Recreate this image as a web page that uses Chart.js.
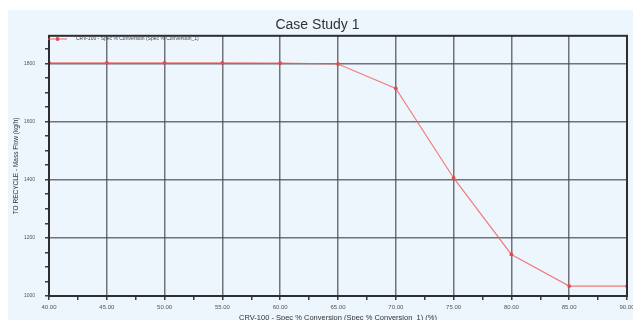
<!DOCTYPE html>
<html>
<head>
<meta charset="utf-8">
<script src="https://cdn.jsdelivr.net/npm/chart.js@4.4.1/dist/chart.umd.min.js"></script>
<style>
  html, body { margin: 0; padding: 0; background: #ffffff; }
  #panel { position: absolute; left: 8px; top: 10px; width: 625px; height: 310px; background: #edf5fd; }
  #panel canvas { display: block; }
</style>
</head>
<body>
<div id="panel"><canvas id="c" width="625" height="310"></canvas></div>
<script>
// Spec % conversion of CRV-100 (x) against recycle mass flow (y)
const conversion = [40, 45, 50, 55, 60, 65, 70, 75, 80, 85, 90];
const recycleFlow = [1802, 1802, 1802, 1802, 1801, 1798, 1714, 1406, 1143, 1034, 1034];

const seriesLabel = 'CRV-100 - Spec % Conversion (Spec % Conversion_1)';
const chartTitle = 'Case Study 1';
const xTitle = 'CRV-100 - Spec % Conversion (Spec % Conversion_1) (%)';
const yTitle = 'TO RECYCLE - Mass Flow (kg/h)';

const X_MIN = 40, X_MAX = 90, X_MAJOR = 5, X_MINOR = 2.5;
const Y_MIN = 1000, Y_MAX = 1895, Y_MAJOR = 200, Y_MINOR = 50;

const FONT = "'Liberation Sans', Arial, sans-serif";
const LINE_COLOR = 'rgba(240, 95, 95, 0.8)';
const POINT_COLOR = '#e84848';
const GRID_COLOR = 'rgba(70, 72, 78, 0.75)';

const isMultiple = (v, step) => Math.abs(v / step - Math.round(v / step)) < 1e-6;

// dark frame around the plotting area
const framePlugin = {
  id: 'frame',
  afterDatasetsDraw(chart) {
    const { ctx, chartArea: a } = chart;
    ctx.save();
    ctx.strokeStyle = '#2e2e30';
    ctx.lineWidth = 2;
    ctx.strokeRect(a.left, a.top, a.right - a.left, a.bottom - a.top);
    ctx.restore();
  }
};

// series key drawn in the top-left corner of the plotting area
const insideLegend = {
  id: 'insideLegend',
  afterDraw(chart) {
    const { ctx, chartArea: a } = chart;
    const ds = chart.data.datasets[0];
    const y = a.top + 3.2;
    const x0 = a.left - 1, x1 = a.left + 18;
    ctx.save();
    ctx.strokeStyle = ds.borderColor;
    ctx.lineWidth = 1.2;
    ctx.beginPath(); ctx.moveTo(x0, y); ctx.lineTo(x1, y); ctx.stroke();
    ctx.fillStyle = ds.pointBackgroundColor;
    ctx.beginPath(); ctx.arc((x0 + x1) / 2, y, 1.9, 0, Math.PI * 2); ctx.fill();
    ctx.fillStyle = '#444444';
    ctx.font = '5px ' + FONT;
    ctx.textBaseline = 'middle';
    ctx.textAlign = 'left';
    ctx.fillText(ds.label, a.left + 27, y);
    ctx.restore();
  }
};

new Chart(document.getElementById('c'), {
  type: 'line',
  data: {
    datasets: [{
      label: seriesLabel,
      data: conversion.map((x, i) => ({ x, y: recycleFlow[i] })),
      borderColor: LINE_COLOR,
      backgroundColor: POINT_COLOR,
      borderWidth: 1.2,
      pointRadius: 1.9,
      pointBorderWidth: 0,
      pointBackgroundColor: POINT_COLOR,
      tension: 0
    }]
  },
  options: {
    responsive: false,
    animation: false,
    devicePixelRatio: 1,
    layout: { padding: { left: 0, right: 6, top: 0, bottom: 0 } },
    plugins: {
      title: {
        display: true,
        text: chartTitle,
        color: '#333333',
        font: { family: FONT, size: 14, weight: 'normal', lineHeight: 1.2 },
        padding: { top: 7, bottom: 2 }
      },
      legend: { display: false },
      tooltip: { enabled: false }
    },
    scales: {
      x: {
        type: 'linear',
        min: X_MIN, max: X_MAX,
        afterFit(s) { s.height = 24; s.paddingLeft = 0; s.paddingRight = 0; },
        ticks: {
          stepSize: X_MINOR,
          autoSkip: false,
          maxRotation: 0,
          padding: 3.4,
          color: '#555555',
          font: { family: FONT, size: 6 },
          callback: v => isMultiple(v, X_MAJOR) ? v.toFixed(2) : ''
        },
        grid: {
          color: c => (c.tick && isMultiple(c.tick.value, X_MAJOR)) ? GRID_COLOR : 'transparent',
          tickColor: '#3a3a3a',
          lineWidth: 1.5,
          tickLength: 4,
          drawTicks: true
        },
        border: { display: false },
        title: {
          display: true,
          text: xTitle,
          color: '#333333',
          font: { family: FONT, size: 7.5, lineHeight: 0.6 },
          padding: 0
        }
      },
      y: {
        type: 'linear',
        min: Y_MIN, max: Y_MAX,
        afterFit(s) { s.width = 41; s.paddingTop = 0; s.paddingBottom = 0; },
        ticks: {
          stepSize: Y_MINOR,
          includeBounds: false,
          autoSkip: false,
          padding: 10,
          color: '#555555',
          font: { family: FONT, size: 5 },
          callback: v => isMultiple(v, Y_MAJOR) ? String(v) : ''
        },
        grid: {
          color: c => (c.tick && isMultiple(c.tick.value, Y_MAJOR)) ? GRID_COLOR : 'transparent',
          tickColor: '#3a3a3a',
          lineWidth: 1.5,
          tickLength: 4,
          drawTicks: true
        },
        border: { display: false },
        title: {
          display: true,
          text: yTitle,
          color: '#333333',
          font: { family: FONT, size: 6.5 },
          padding: { top: 4, bottom: 0 }
        }
      }
    }
  },
  plugins: [framePlugin, insideLegend]
});
</script>
</body>
</html>
